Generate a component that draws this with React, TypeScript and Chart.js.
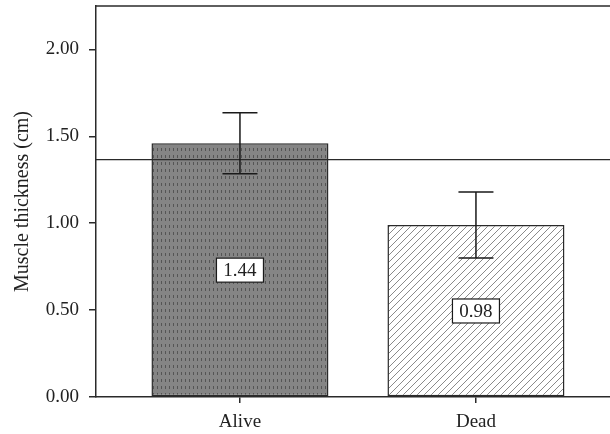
import React, { useEffect, useRef } from "react";
import { Chart, registerables } from "chart.js";

Chart.register(...registerables);

const categories = ["Alive", "Dead"];
const positions = [1, 2];
const means = [1.46, 0.99];
const errors = [0.175, 0.19];
const valueLabels = ["1.44", "0.98"];
const referenceLine = 1.366;
const yTicks = [0, 0.5, 1.0, 1.5, 2.0];

const FONT = "'Liberation Serif', 'Times New Roman', serif";

function makeDotPattern(): CanvasPattern | string {
  const c = document.createElement("canvas");
  c.width = 4;
  c.height = 7;
  const ctx = c.getContext("2d");
  if (!ctx) return "#808080";
  ctx.fillStyle = "#858585";
  ctx.fillRect(0, 0, 4, 7);
  ctx.fillStyle = "#555555";
  ctx.fillRect(1, 1, 1, 3);
  return ctx.createPattern(c, "repeat") || "#808080";
}

function makeHatchPattern(): CanvasPattern | string {
  const s = 7;
  const c = document.createElement("canvas");
  c.width = s;
  c.height = s;
  const ctx = c.getContext("2d");
  if (!ctx) return "#ffffff";
  ctx.fillStyle = "#ffffff";
  ctx.fillRect(0, 0, s, s);
  ctx.strokeStyle = "#8a8a8a";
  ctx.lineWidth = 1;
  ctx.beginPath();
  ctx.moveTo(0, s);
  ctx.lineTo(s, 0);
  ctx.moveTo(-1, 1);
  ctx.lineTo(1, -1);
  ctx.moveTo(s - 1, s + 1);
  ctx.lineTo(s + 1, s - 1);
  ctx.stroke();
  return ctx.createPattern(c, "repeat") || "#ffffff";
}

const overlayPlugin = {
  id: "overlay",
  afterDatasetsDraw(chart: any) {
    const ctx = chart.ctx;
    const xs = chart.scales.x;
    const ys = chart.scales.y;
    const area = chart.chartArea;
    ctx.save();
    // top frame line
    ctx.strokeStyle = "#2a2a2a";
    ctx.lineWidth = 1.5;
    ctx.beginPath();
    ctx.moveTo(area.left, area.top);
    ctx.lineTo(area.right, area.top);
    ctx.stroke();
    // reference line
    const ry = ys.getPixelForValue(referenceLine);
    ctx.lineWidth = 1.2;
    ctx.beginPath();
    ctx.moveTo(area.left, ry);
    ctx.lineTo(area.right, ry);
    ctx.stroke();
    // error bars
    ctx.strokeStyle = "#1a1a1a";
    ctx.lineWidth = 1.5;
    positions.forEach((p, i) => {
      const x = xs.getPixelForValue(p);
      const yTop = ys.getPixelForValue(means[i] + errors[i]);
      const yBot = ys.getPixelForValue(means[i] - errors[i]);
      const cap = 17.5;
      ctx.beginPath();
      ctx.moveTo(x, yTop);
      ctx.lineTo(x, yBot);
      ctx.moveTo(x - cap, yTop);
      ctx.lineTo(x + cap, yTop);
      ctx.moveTo(x - cap, yBot);
      ctx.lineTo(x + cap, yBot);
      ctx.stroke();
    });
    // value label boxes
    ctx.font = `19px ${FONT}`;
    ctx.textAlign = "center";
    ctx.textBaseline = "middle";
    positions.forEach((p, i) => {
      const x = xs.getPixelForValue(p);
      const y = ys.getPixelForValue(means[i] / 2);
      const w = 47;
      const h = 24;
      ctx.fillStyle = "#ffffff";
      ctx.fillRect(x - w / 2, y - h / 2, w, h);
      ctx.strokeStyle = "#1a1a1a";
      ctx.lineWidth = 1.2;
      ctx.strokeRect(x - w / 2, y - h / 2, w, h);
      ctx.fillStyle = "#222222";
      ctx.fillText(valueLabels[i], x, y + 1);
    });
    ctx.restore();
  },
};

export default function App() {
  const ref = useRef<HTMLCanvasElement | null>(null);
  useEffect(() => {
    if (!ref.current) return;
    const chart = new Chart(ref.current, {
      type: "bar",
      data: {
        datasets: [
          {
            data: positions.map((p, i) => ({ x: p, y: means[i] })),
            backgroundColor: [makeDotPattern(), makeHatchPattern()],
            borderColor: "#2a2a2a",
            borderWidth: 1.5,
            borderSkipped: false,
            barPercentage: 0.75,
            categoryPercentage: 1,
          } as any,
        ],
      },
      options: {
        animation: false,
        responsive: false,
        maintainAspectRatio: false,
        layout: { padding: { top: 6, right: 0, left: 0, bottom: 0 } },
        plugins: {
          legend: { display: false },
          tooltip: { enabled: false },
        },
        scales: {
          x: {
            type: "linear",
            min: 0.39,
            max: 2.568,
            offset: false,
            afterBuildTicks(scale: any) {
              scale.ticks = positions.map((v) => ({ value: v }));
            },
            afterFit(scale: any) {
              scale.height = 37;
              scale.paddingLeft = 0;
              scale.paddingRight = 0;
            },
            ticks: {
              autoSkip: false,
              maxRotation: 0,
              padding: 8,
              color: "#222222",
              font: { family: FONT, size: 19 },
              callback: (v: any) => {
                const idx = positions.indexOf(Number(v));
                return idx >= 0 ? categories[idx] : "";
              },
            },
            grid: {
              offset: false,
              drawOnChartArea: false,
              drawTicks: true,
              tickLength: 6,
              color: "#2a2a2a",
              lineWidth: 1.5,
            },
            border: { display: true, color: "#2a2a2a", width: 1.5 },
          },
          y: {
            min: 0,
            max: 2.25,
            afterBuildTicks(scale: any) {
              scale.ticks = yTicks.map((v) => ({ value: v }));
            },
            afterFit(scale: any) {
              scale.width = 96;
              scale.paddingTop = 0;
              scale.paddingBottom = 0;
            },
            title: {
              display: true,
              text: "Muscle thickness (cm)",
              color: "#222222",
              font: { family: FONT, size: 20 },
              padding: { top: 11, bottom: 0 },
            },
            ticks: {
              padding: 10,
              color: "#222222",
              font: { family: FONT, size: 19 },
              callback: (v: any) => Number(v).toFixed(2),
            },
            grid: {
              drawOnChartArea: false,
              drawTicks: true,
              tickLength: 7,
              color: "#2a2a2a",
              lineWidth: 1.5,
            },
            border: { display: true, color: "#2a2a2a", width: 1.5 },
          },
        },
      },
      plugins: [overlayPlugin],
    });
    return () => chart.destroy();
  }, []);
  return (
    <div style={{ position: "absolute", left: 0, top: 0, width: 610, height: 434 }}>
      <canvas ref={ref} width={610} height={434} />
    </div>
  );
}
